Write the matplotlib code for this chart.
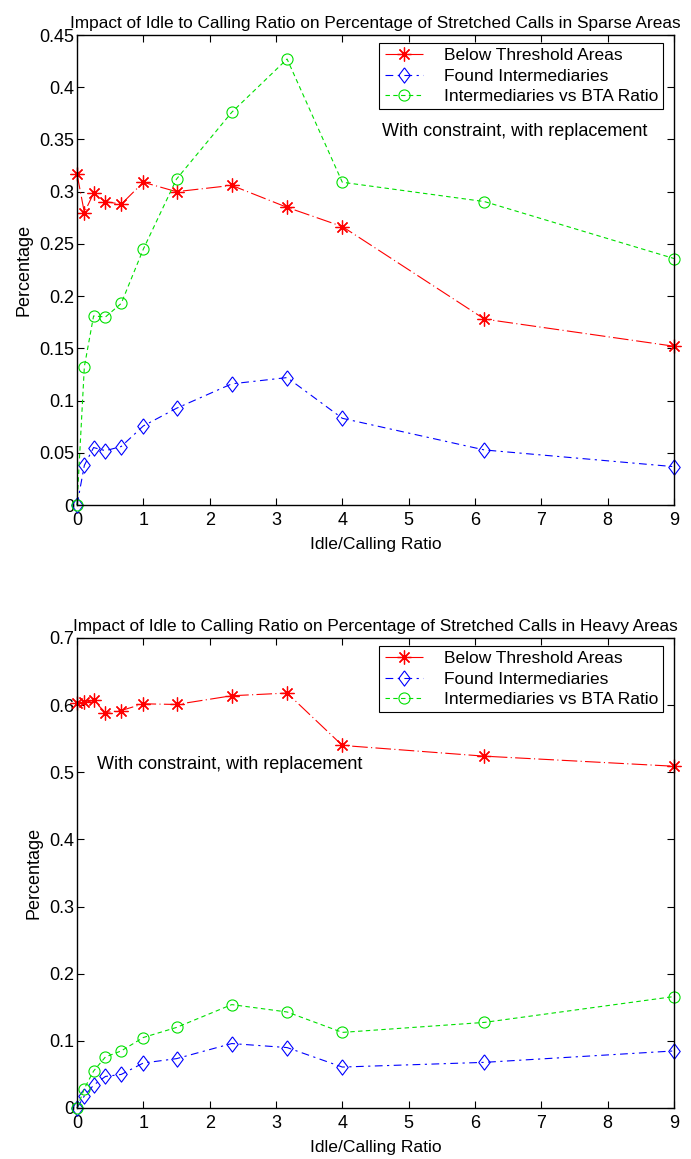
import numpy as np
import matplotlib
matplotlib.use("Agg")
import matplotlib.pyplot as plt

plt.rcParams['font.family'] = ['Liberation Sans', 'DejaVu Sans']

# idle/calling ratio
ratio = [0, 0.111, 0.25, 0.4286, 0.6667, 1.0, 1.5, 2.333, 3.167, 4.0, 6.143, 9.0]

# sparse areas
sparse_bta = [0.317, 0.280, 0.2985, 0.2905, 0.288, 0.309, 0.300, 0.306, 0.285, 0.2666, 0.178, 0.152]
sparse_found = [0.0, 0.038, 0.055, 0.052, 0.056, 0.0757, 0.0926, 0.116, 0.122, 0.083, 0.0527, 0.0367]
sparse_ratio = [0.0, 0.1325, 0.181, 0.180, 0.193, 0.245, 0.312, 0.376, 0.427, 0.309, 0.2905, 0.236]

# heavy areas
heavy_bta = [0.603, 0.604, 0.607, 0.589, 0.592, 0.602, 0.601, 0.614, 0.618, 0.540, 0.524, 0.509]
heavy_found = [0.0, 0.018, 0.034, 0.047, 0.050, 0.067, 0.0735, 0.096, 0.090, 0.061, 0.068, 0.085]
heavy_ratio = [0.0, 0.029, 0.055, 0.076, 0.085, 0.105, 0.120, 0.154, 0.143, 0.1126, 0.1275, 0.166]

labels = ["Below Threshold Areas", "Found Intermediaries", "Intermediaries vs BTA Ratio"]
note = "With constraint, with replacement"

# matlab style diamond: a bit taller than wide
diamond = [(0, 1), (0.75, 0), (0, -1), (-0.75, 0), (0, 1)]

W, H = 691, 1159
fig = plt.figure(figsize=(W / 100, H / 100), dpi=100)

def axes_px(left, top, right, bottom):
    return fig.add_axes([left / W, 1 - bottom / H, (right - left) / W, (bottom - top) / H])

def draw(ax, bta, found, rat, title, ymax, yticks):
    ax.plot(ratio, bta, color='red', linestyle=(0, (14, 3, 1, 3)), linewidth=0.8,
            marker=(8, 2, 0), markersize=10, markeredgewidth=0.9, label=labels[0], clip_on=False)
    ax.plot(ratio, found, color='blue', linestyle=(0, (7, 4, 2, 4)), linewidth=0.8,
            marker=diamond, markersize=11, markerfacecolor='none', markeredgewidth=0.8,
            label=labels[1], clip_on=False)
    ax.plot(ratio, rat, color='#00e000', linestyle=(0, (4, 3)), linewidth=0.8,
            marker='o', markersize=8, markerfacecolor='none', markeredgewidth=0.8,
            label=labels[2], clip_on=False)
    ax.set_xlim(0, 9)
    ax.set_ylim(0, ymax)
    ax.set_xticks(range(10))
    ax.set_yticks(yticks)
    ax.set_yticklabels([("%.2f" % v).rstrip('0').rstrip('.') or "0" for v in yticks])
    ax.tick_params(direction='in', top=True, right=True, labelsize=13, length=5, pad=2)
    ax.tick_params(axis='x', pad=5)
    for s in ax.spines.values():
        s.set_linewidth(1.0)
    ax.set_title(title, fontsize=12.4, pad=5)
    ax.set_xlabel("Idle/Calling Ratio", fontsize=12.6, labelpad=6)
    ax.set_ylabel("Percentage", fontsize=13, labelpad=5)
    leg = ax.legend(loc='upper right', bbox_to_anchor=(0.982, 0.983), borderaxespad=0,
                    fontsize=12.5, fancybox=False, edgecolor='black', framealpha=1,
                    handlelength=2.2, handletextpad=1.2, labelspacing=0.3, borderpad=0.3)
    leg.get_frame().set_linewidth(0.8)

ax1 = axes_px(77, 35, 674, 505)
draw(ax1, sparse_bta, sparse_found, sparse_ratio,
     "Impact of Idle to Calling Ratio on Percentage of Stretched Calls in Sparse Areas",
     0.45, np.arange(0, 0.451, 0.05))
ax1.text(4.6, 0.358, note, fontsize=13, va='center', ha='left')

ax2 = axes_px(77, 638, 674, 1108)
draw(ax2, heavy_bta, heavy_found, heavy_ratio,
     "Impact of Idle to Calling Ratio on Percentage of Stretched Calls in Heavy Areas",
     0.7, np.arange(0, 0.701, 0.1))
ax2.text(0.3, 0.511, note, fontsize=13, va='center', ha='left')

fig.savefig("out.png", dpi=100)
